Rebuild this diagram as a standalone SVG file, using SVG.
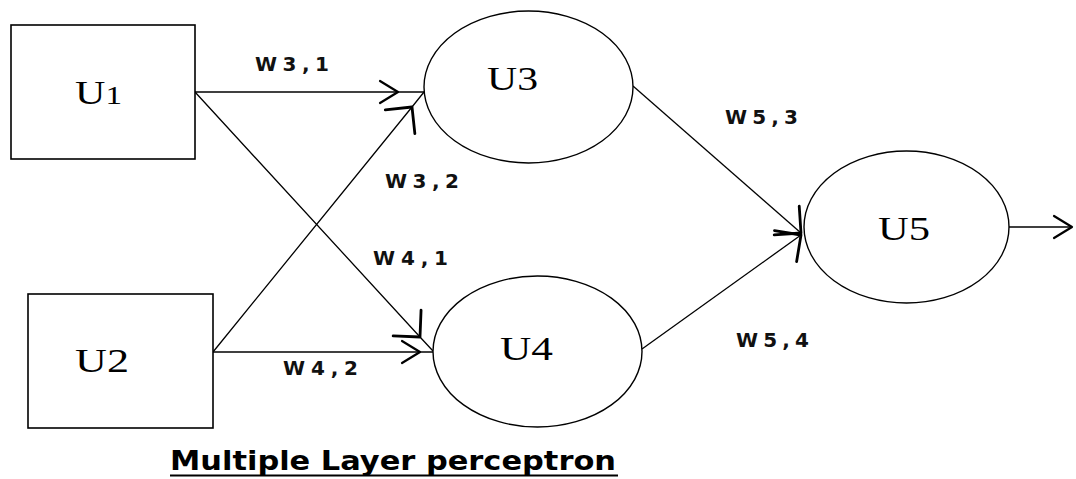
<svg xmlns="http://www.w3.org/2000/svg" width="1076" height="479" viewBox="0 0 1076 479">
  <style>
    .box { fill: #fff; stroke: #000; stroke-width: 1.6; }
    .node { fill: #fff; stroke: #000; stroke-width: 1.4; }
    .nlabel { font-family: "Liberation Serif", "Times New Roman", serif; font-size: 33px; fill: #000; }
    .edge { fill: none; stroke: #000; stroke-width: 1.3; }
    .wlabel { font-family: "DejaVu Sans", Verdana, sans-serif; font-size: 20px; font-weight: bold; fill: #111; }
    .title { font-family: "DejaVu Sans", sans-serif; font-size: 26px; font-weight: bold; fill: #000; }
  </style>
  <defs>
    <marker id="ah" markerUnits="userSpaceOnUse" markerWidth="40" markerHeight="40" refX="0" refY="0" orient="auto" overflow="visible">
      <path d="M-18,-11 L0,0 L-18,11" fill="none" stroke="#000" stroke-width="2.2" stroke-linecap="round" stroke-linejoin="round"/>
    </marker>
    <marker id="ad" markerUnits="userSpaceOnUse" markerWidth="40" markerHeight="40" refX="0" refY="0" orient="auto" overflow="visible">
      <path d="M-19,-19 L0,0 L-19,19" fill="none" stroke="#000" stroke-width="2.8" stroke-linecap="round" stroke-linejoin="round"/>
    </marker>
  </defs>
  <rect x="0" y="0" width="1076" height="479" fill="#fff"/>

  <g id="connectors">
    <path class="edge" d="M195,92 L398,92 L425,92" marker-mid="url(#ah)"/>
    <path class="edge" d="M195,92 L420,337 L433,351" marker-mid="url(#ad)"/>
    <path class="edge" d="M213,352 L412,107 L424,92" marker-mid="url(#ad)"/>
    <path class="edge" d="M213,352 L420,352 L433,352" marker-mid="url(#ah)"/>
    <path class="edge" d="M633,86 L801,233" marker-end="url(#ad)"/>
    <path class="edge" d="M642,349 L801,235" marker-end="url(#ad)"/>
    <path class="edge" d="M1009,227 L1072,227" marker-end="url(#ah)"/>
    <g id="edge-labels">
      <text class="wlabel" x="255" y="71" textLength="74">W3,1</text>
      <text class="wlabel" x="385" y="188" textLength="74">W3,2</text>
      <text class="wlabel" x="373" y="265" textLength="75">W4,1</text>
      <text class="wlabel" x="283" y="375" textLength="75">W4,2</text>
      <text class="wlabel" x="725" y="124" textLength="73">W5,3</text>
      <text class="wlabel" x="736" y="347" textLength="73">W5,4</text>
    </g>
  </g>

  <g id="node-u1">
    <rect class="box" x="11" y="25" width="184" height="134"/>
    <text class="nlabel" x="75" y="104" textLength="47" lengthAdjust="spacingAndGlyphs">U<tspan font-size="26">1</tspan></text>
  </g>
  <g id="node-u2">
    <rect class="box" x="28" y="294" width="185" height="134"/>
    <text class="nlabel" x="75" y="372" textLength="54" lengthAdjust="spacingAndGlyphs">U2</text>
  </g>
  <g id="node-u3">
    <ellipse class="node" cx="528.5" cy="87" rx="104.5" ry="76"/>
    <text class="nlabel" x="487" y="90" textLength="51" lengthAdjust="spacingAndGlyphs">U3</text>
  </g>
  <g id="node-u4">
    <ellipse class="node" cx="537.5" cy="351.5" rx="104.5" ry="75.5"/>
    <text class="nlabel" x="500" y="360" textLength="53" lengthAdjust="spacingAndGlyphs">U4</text>
  </g>
  <g id="node-u5">
    <ellipse class="node" cx="906.5" cy="227" rx="102.5" ry="76"/>
    <text class="nlabel" x="878" y="240" textLength="52" lengthAdjust="spacingAndGlyphs">U5</text>
  </g>

  <g id="title">
    <text class="title" x="170" y="470" textLength="446" lengthAdjust="spacingAndGlyphs">Multiple Layer perceptron</text>
    <line x1="170" y1="475.5" x2="618" y2="475.5" stroke="#000" stroke-width="2"/>
  </g>
</svg>
